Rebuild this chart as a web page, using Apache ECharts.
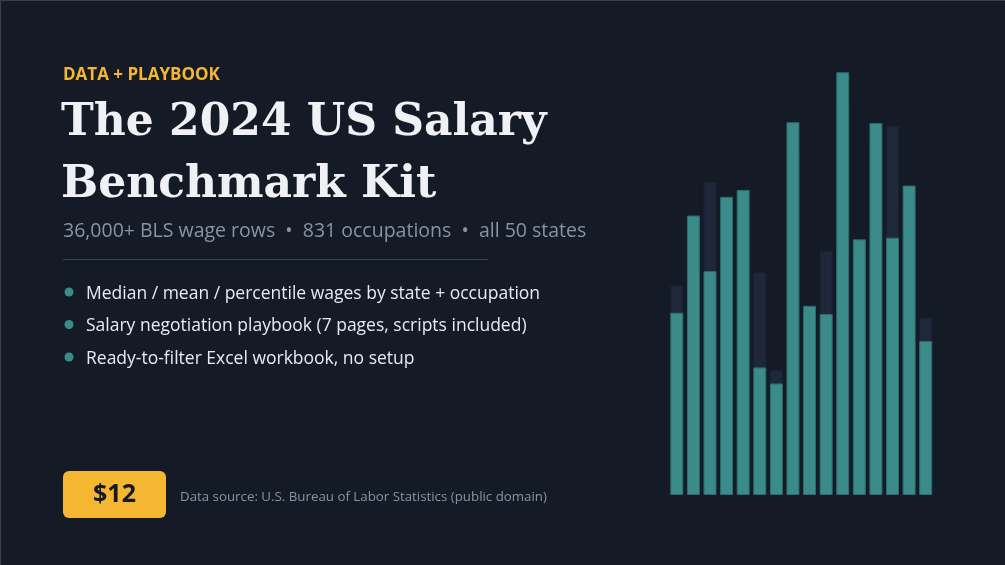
<!DOCTYPE html>
<html>
<head>
<meta charset="utf-8">
<script src="https://cdn.jsdelivr.net/npm/echarts@6/dist/echarts.min.js"></script>
<style>
  html, body { margin: 0; padding: 0; background: #141a26; }
  #chart { width: 1005px; height: 565px; box-sizing: border-box; border-top: 1px solid #3a3f4a; border-left: 1px solid #3a3f4a; }
</style>
</head>
<body>
<div id="chart"></div>
<script>
// bar heights (0–100 scale)
const categories = ['1', '2', '3', '4', '5', '6', '7', '8', '9', '10', '11', '12', '13', '14', '15', '16'];
const frontValues = [42.0, 64.4, 51.6, 68.7, 70.3, 29.4, 25.7, 85.9, 43.6, 41.7, 97.4, 58.9, 85.7, 59.3, 71.3, 35.5];
const backValues = [48.3, 60.0, 72.2, 62.0, 65.0, 51.4, 28.9, 80.0, 40.0, 56.3, 90.0, 55.0, 80.0, 85.0, 66.0, 40.9];

const bullets = [
  'Median / mean / percentile wages by state + occupation',
  'Salary negotiation playbook (7 pages, scripts included)',
  'Ready-to-filter Excel workbook, no setup'
];

const SANS = '"Open Sans", "Noto Sans", sans-serif';
const SERIF = '"DejaVu Serif", Georgia, serif';

const chart = echarts.init(document.getElementById('chart'), null, { renderer: 'canvas' });

const graphic = [
  { type: 'text', x: 62, y: 74, style: { text: 'DATA + PLAYBOOK', fill: '#f5b731', font: `bold 17px ${SANS}`, verticalAlign: 'middle' } },
  { type: 'text', left: 60, top: 101, style: { text: 'The 2024 US Salary', fill: '#f0f1f5', font: `bold 44px ${SERIF}` } },
  { type: 'text', left: 60, top: 163, style: { text: 'Benchmark Kit', fill: '#f0f1f5', font: `bold 44px ${SERIF}` } },
  { type: 'text', x: 62, y: 230, style: { text: '36,000+ BLS wage rows  •  831 occupations  •  all 50 states', fill: '#8a92a3', font: `19.5px ${SANS}`, verticalAlign: 'middle' } },
  { type: 'rect', shape: { x: 62, y: 258, width: 425, height: 1 }, style: { fill: '#3a4151' } },
  { type: 'rect', shape: { x: 62, y: 470, width: 103, height: 47, r: 6 }, style: { fill: '#f5b731' } },
  { type: 'text', x: 113.5, y: 494, style: { text: '$12', fill: '#151a26', font: `bold 25px ${SANS}`, align: 'center', verticalAlign: 'middle' } },
  { type: 'text', x: 179, y: 496, style: { text: 'Data source: U.S. Bureau of Labor Statistics (public domain)', fill: '#8a92a3', font: `13.3px ${SANS}`, verticalAlign: 'middle' } }
];
bullets.forEach((t, i) => {
  const cy = 291 + i * 32.5;
  graphic.push({ type: 'circle', shape: { cx: 68, cy: cy, r: 4.5 }, style: { fill: '#3a8b89' } });
  graphic.push({ type: 'text', x: 85, y: cy + 2, style: { text: t, fill: '#e8eaf0', font: `17.5px ${SANS}`, verticalAlign: 'middle' } });
});

chart.setOption({
  backgroundColor: '#141a26',
  animation: false,
  grid: { left: 667.5, right: 71, top: 60, bottom: 70 },
  xAxis: {
    type: 'category',
    data: categories,
    axisLine: { show: false },
    axisTick: { show: false },
    axisLabel: { show: false }
  },
  yAxis: {
    type: 'value',
    min: 0,
    max: 100,
    splitLine: { show: false },
    axisLabel: { show: false }
  },
  series: [
    {
      type: 'bar',
      data: backValues,
      barWidth: 13,
      itemStyle: { color: '#1f2839', borderColor: '#1a2131', borderWidth: 1 },
      z: 1
    },
    {
      type: 'bar',
      data: frontValues,
      barWidth: 13,
      barGap: '-100%',
      itemStyle: { color: '#3a8b89', borderColor: '#2d6c6c', borderWidth: 1 },
      z: 2
    }
  ],
  graphic: graphic
});
</script>
</body>
</html>
